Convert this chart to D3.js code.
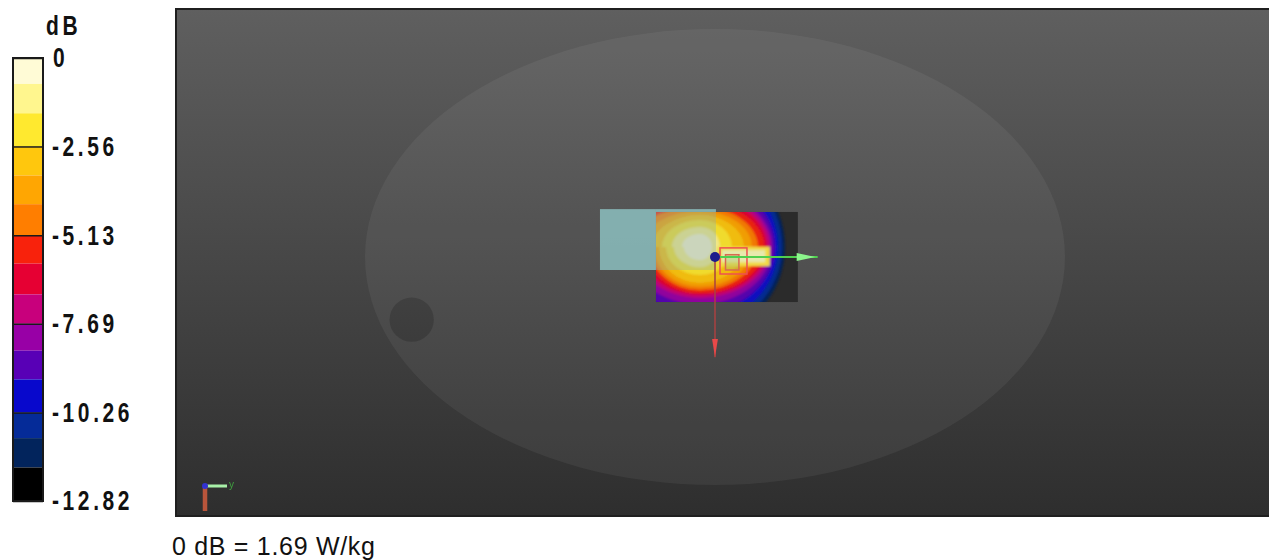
<!DOCTYPE html>
<html>
<head>
<meta charset="utf-8">
<script src="https://cdn.jsdelivr.net/npm/d3@7"></script>
<style>
  html, body { margin: 0; padding: 0; background: #fff; overflow: hidden; }
  .cbar text { font-family: "Liberation Sans", sans-serif; font-weight: bold; font-size: 21px; fill: #111; letter-spacing: 3.6px; }
</style>
</head>
<body>
<div id="chart"></div>
<script>
// colour bar: 15 bands between 0 and -12.82 dB
var bandEdges = [0, -0.75, -1.6, -2.56, -3.4, -4.23, -5.13, -5.95, -6.84, -7.69, -8.47, -9.3, -10.26, -11, -11.85, -12.82];
var bandColors = ["#fffbd6", "#fff68e", "#ffe92f", "#ffc70d", "#ffa602", "#ff7e00", "#f8220c", "#e60033",
  "#c8007c", "#9800a6", "#5800b6", "#0808cc", "#052b98", "#02245c", "#000000"];
var tickValues = [0, -2.56, -5.13, -7.69, -10.26, -12.82];
var tickLabels = ["0", "-2.56", "-5.13", "-7.69", "-10.26", "-12.82"];

// contours in mm from the scan centre, outermost (-12 dB) to innermost, last band stays dark
var contourColors = bandColors.slice(0, 14).reverse();
var contourRight = [72.9, 70.3, 66.9, 64.3, 62, 60, 57.4, 54.9, 49.7, 44.6, 37.7, 27.4, 17, 10.3];
var contourBottom = [77.2, 71.9, 65.8, 57, 50, 44.7, 42.1, 40.4, 37.7, 35, 31.6, 24.6, 17.5, 11.4];
var contourTop = [79, 75, 68, 58, 50, 47, 44, 39, 35, 31.6, 28, 23.7, 17.5, 11.4];
var contourLowerLeft = [107, 94, 81, 71, 62.6, 56.6, 51.4, 46.3, 42.9, 39.4, 35.1, 29.1, 22.3, 13.7];
var contourUpperLeft = [137, 129, 120, 111, 103, 94, 86, 77, 60, 49.7, 41, 32.6, 24, 15.4];
var contourCentre = [-12.9, -8.8];

// phantom, scan and device outlines in mm
var phantomRadius = [300, 200];
var holeCentre = [-260, 55];
var holeRadius = 19;
var scanArea = [-50.6, -39.5, 71, 39.5];
var deviceOverlap = [-50.6, -39.5, 0.8, 11.4];
var deviceFree = [-98.6, -42, -50.6, 11.4];
var deviceTop = [-50.6, -42, 0.8, -39.5];
var zoomOuter = [4.3, -8, 27.4, 14.9];
var zoomInner = [9, -2, 20.5, 11.4];
var warmStreak = [2, -9, 47, 8];
var hotStreak = [6, -6, 43, 4.5];
var axisEnds = { y: 86, x: 88 };

var width = 1269, height = 560;
var panel = { left: 176, right: 1269, top: 9, bottom: 516 };

var svg = d3.select("#chart").append("svg")
  .attr("width", width)
  .attr("height", height)
  .style("display", "block");

var defs = svg.append("defs");
var grad = defs.append("linearGradient").attr("id", "bg")
  .attr("x1", 0).attr("y1", 0).attr("x2", 0).attr("y2", 1);
grad.append("stop").attr("offset", "0%").attr("stop-color", "#5f5f5f");
grad.append("stop").attr("offset", "100%").attr("stop-color", "#2e2e2e");
defs.append("filter").attr("id", "soft").append("feGaussianBlur").attr("stdDeviation", 1.2);
defs.append("filter").attr("id", "soft2").append("feGaussianBlur").attr("stdDeviation", 0.6);

// mm -> px
var x = d3.scaleLinear().domain([-300, 300]).range([365, 1065]);
var y = d3.scaleLinear().domain([-200, 200]).range([29, 485]);

function rectFrom(sel, a) {
  return sel
    .attr("x", x(a[0]))
    .attr("y", y(a[1]))
    .attr("width", x(a[2]) - x(a[0]))
    .attr("height", y(a[3]) - y(a[1]));
}

// view panel
svg.append("rect")
  .attr("x", panel.left).attr("y", panel.top)
  .attr("width", panel.right - panel.left + 2).attr("height", panel.bottom - panel.top)
  .attr("fill", "url(#bg)")
  .attr("stroke", "#1f1f1f")
  .attr("stroke-width", 2);

// phantom
svg.append("ellipse")
  .attr("cx", x(0)).attr("cy", y(0))
  .attr("rx", x(phantomRadius[0]) - x(0))
  .attr("ry", y(phantomRadius[1]) - y(0))
  .attr("fill", "#fff").attr("fill-opacity", 0.055);
svg.append("circle")
  .attr("cx", x(holeCentre[0])).attr("cy", y(holeCentre[1]))
  .attr("r", x(holeRadius) - x(0))
  .attr("fill", "#000").attr("fill-opacity", 0.17);

// SAR scan, contours clipped to the scan area
defs.append("clipPath").attr("id", "scan").call(function (c) {
  rectFrom(c.append("rect"), scanArea);
});
rectFrom(svg.append("rect"), scanArea).attr("fill", "#2b2b2b");

function contourPath(i) {
  var cx = x(contourCentre[0]), cy = y(contourCentre[1]);
  var r = x(contourRight[i]) - x(0);
  var ll = x(contourLowerLeft[i]) - x(0), ul = x(contourUpperLeft[i]) - x(0);
  var t = y(contourTop[i]) - y(0), b = y(contourBottom[i]) - y(0);
  return "M" + cx + "," + (cy - t) +
    "A" + r + "," + t + " 0 0 1 " + (cx + r) + "," + cy +
    "A" + r + "," + b + " 0 0 1 " + cx + "," + (cy + b) +
    "A" + ll + "," + b + " 0 0 1 " + (cx - ll) + "," + cy +
    "L" + (cx - ul) + "," + cy +
    "A" + ul + "," + t + " 0 0 1 " + cx + "," + (cy - t) + "Z";
}

var heat = svg.append("g").attr("clip-path", "url(#scan)");
var heatInner = heat.append("g").attr("filter", "url(#soft)").attr("opacity", 0.93);
heatInner.selectAll("path")
  .data(contourColors)
  .enter()
  .append("path")
  .attr("d", function (d, i) { return contourPath(i); })
  .attr("fill", function (d) { return d; });
rectFrom(heatInner.append("rect"), warmStreak).attr("fill", "#ffe84a");
rectFrom(heatInner.append("rect"), hotStreak).attr("fill", "#f6f8b8");

// device footprint: strong over the phantom, faint where the scan shows through
rectFrom(svg.append("rect"), deviceFree).attr("fill", "#9ce0e0").attr("fill-opacity", 0.65);
rectFrom(svg.append("rect"), deviceTop).attr("fill", "#9ce0e0").attr("fill-opacity", 0.65);
rectFrom(svg.append("rect"), deviceOverlap).attr("fill", "#8fb0a8").attr("fill-opacity", 0.38);

// zoom scan boxes
var over = svg.append("g").attr("filter", "url(#soft2)");
rectFrom(over.append("rect"), zoomOuter).attr("fill", "none").attr("stroke", "#ee5050").attr("stroke-width", 1.5);
rectFrom(over.append("rect"), zoomInner).attr("fill", "#a8c070").attr("fill-opacity", 0.4).attr("stroke", "#d86a50").attr("stroke-width", 1.5);

// big axes triad
over.append("line").attr("x1", x(0)).attr("x2", x(axisEnds.x)).attr("y1", y(0)).attr("y2", y(0))
  .attr("stroke", "#4fd04f").attr("stroke-width", 2);
over.append("path")
  .attr("d", d3.line()([[x(70), y(-3.5)], [x(86), y(0)], [x(70), y(3.5)]]))
  .attr("fill", "#8cf58c");
over.append("line").attr("x1", x(0)).attr("x2", x(0)).attr("y1", y(0)).attr("y2", y(88))
  .attr("stroke", "#a84040").attr("stroke-width", 1.5);
over.append("path")
  .attr("d", d3.line()([[x(-2.5), y(72)], [x(0), y(88)], [x(2.5), y(72)]]))
  .attr("fill", "#e84848");
over.append("circle").attr("cx", x(0)).attr("cy", y(0)).attr("r", 5).attr("fill", "#1c1c8c");

// small triad, bottom left
var mini = svg.append("g").attr("filter", "url(#soft2)");
mini.append("line").attr("x1", 205).attr("x2", 227).attr("y1", 486).attr("y2", 486).attr("stroke", "#a8f0a8").attr("stroke-width", 3);
mini.append("line").attr("x1", 205).attr("x2", 205).attr("y1", 486).attr("y2", 511).attr("stroke", "#b8553a").attr("stroke-width", 4.5);
mini.append("circle").attr("cx", 205).attr("cy", 486).attr("r", 3).attr("fill", "#3030d0");
mini.append("text").attr("x", 229).attr("y", 488).attr("fill", "#3fa03f")
  .style("font-family", "Liberation Sans").style("font-size", "10px").text("y");

// colour bar
var barScale = d3.scaleLinear().domain([0, -12.82]).range([58, 501]);
var cbar = svg.append("g").attr("class", "cbar");
cbar.selectAll("rect")
  .data(bandColors)
  .enter()
  .append("rect")
  .attr("x", 13)
  .attr("width", 30)
  .attr("y", function (d, i) { return barScale(bandEdges[i]); })
  .attr("height", function (d, i) { return barScale(bandEdges[i + 1]) - barScale(bandEdges[i]); })
  .attr("fill", function (d) { return d; });
cbar.append("rect")
  .attr("x", 13).attr("y", barScale(0)).attr("width", 30).attr("height", barScale(-12.82) - barScale(0))
  .attr("fill", "none").attr("stroke", "#1a1a1a").attr("stroke-width", 2);

var barAxis = d3.axisRight(barScale)
  .tickValues(tickValues)
  .tickFormat(function (d, i) { return tickLabels[i]; })
  .tickSize(-30)
  .tickPadding(9);
cbar.append("g")
  .attr("transform", "translate(43,0)")
  .call(barAxis)
  .call(function (g) { g.select(".domain").remove(); })
  .call(function (g) { g.selectAll(".tick line").attr("stroke", "#1a1a1a").attr("stroke-width", 1.5); })
  .call(function (g) {
    g.selectAll(".tick text")
      .attr("x", 0).attr("y", 0).attr("dy", "0.36em")
      .attr("fill", "#111")
      // labels sit tall and narrow in the original
      .attr("transform", function (d, i) { return "translate(" + (i === 0 ? 10 : 9) + ",-1) scale(1,1.3)"; });
  });

cbar.append("text")
  .attr("transform", "translate(46,35) scale(1,1.3)")
  .text("dB");

svg.append("text")
  .attr("x", 172).attr("y", 555)
  .style("font-family", "Liberation Sans, sans-serif")
  .style("font-size", "25px")
  .style("letter-spacing", "0.7px")
  .attr("fill", "#111")
  .text("0 dB = 1.69 W/kg");
</script>
</body>
</html>
